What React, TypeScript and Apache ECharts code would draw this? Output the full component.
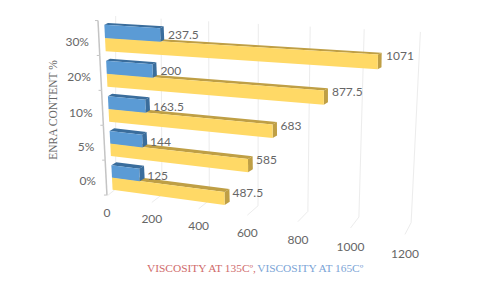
import React, { useEffect, useRef } from "react";
import * as echarts from "echarts";

const categories = ["0%", "5%", "10%", "20%", "30%"];
const viscosity135 = [487.5, 585, 683, 877.5, 1071];
const viscosity165 = [125, 144, 163.5, 200, 237.5];
const valueTicks = [0, 200, 400, 600, 800, 1000, 1200];
const VALUE_MAX = 1200;
const seriesNames = ["VISCOSITY AT 135Cº", "VISCOSITY AT 165Cº"];
const axisName = "ENRA CONTENT %";

const SANS = "Lato, Carlito, sans-serif";
const SERIF = "'Liberation Serif', serif";
const TEXT_COLOR = "#666666";
const GRID_COLOR = "#ececec";
const AXIS_COLOR = "#c4c4c4";

// Perspective projection of the flat cartesian grid (layout only, no data).
const ROW_TOP = 38;
const ROW_SPAN = 139.5;
function warp(X: number, Y: number, sys: any): number[] {
  const v = ((X - sys.x) / sys.width) * VALUE_MAX;
  const t = (Y - ROW_TOP) / ROW_SPAN;
  const y0 = Y + 4.8 * t * (1 - t);
  const x0 = 105 + (y0 - ROW_TOP) * 0.05;
  const s = (0.2277 + 2.54e-5 * v) * (1 - 0.00028 * (y0 - ROW_TOP));
  const slope = 0.0168 + 0.000102 * (y0 - 51);
  return [x0 + v * s, y0 + v * slope];
}
function depth(p: number[], Y: number): number[] {
  const t = (Y - 26) / 160;
  return [p[0] + 3.6 + 1.4 * t, p[1] - (1.8 + 1.4 * t)];
}
function plane(v: number, x0: number, a: number, b: number, y0: number, c: number) {
  return [x0 + v * (a + b * v), y0 + c * v];
}

function gridRender(params: any, api: any) {
  const sys = params.coordSys;
  const value = api.value(0);
  const X = api.coord([value, 0])[0];
  const v = ((X - sys.x) / sys.width) * VALUE_MAX;
  const top = plane(v, 115.7, 0.2215, 2.7e-5, 16, 0.0133);
  const back = plane(v, 115.7, 0.2282, 1.5e-5, 189, 0.028);
  const front = plane(v, 107, 0.2195, 2.4e-5, 196, 0.032);
  return {
    type: "group",
    children: [
      { type: "polyline", shape: { points: [top, back, front] }, style: { stroke: GRID_COLOR, lineWidth: 1, fill: "none" } },
      {
        type: "text",
        style: {
          text: String(value), x: front[0], y: front[1] + 16 + v * 0.0022,
          align: "center", verticalAlign: "middle",
          fontFamily: SANS, fontSize: 12, fill: TEXT_COLOR,
        },
      },
    ],
  };
}

function catRender(params: any, api: any) {
  const idx = api.value(1);
  const c = api.coord([0, idx]);
  const band = api.size([0, 1])[1];
  const axisX = (y: number) => 98 + ((y - 21) * 9) / 175;
  const children: any[] = [];
  const tickY = c[1] - band / 2;
  const t = (c[1] - ROW_TOP) / ROW_SPAN;
  const y0 = c[1] + 4.8 * t * (1 - t);
  const b = c[1] + band / 2;
  children.push({ type: "line", shape: { x1: axisX(tickY), y1: tickY, x2: axisX(tickY) - 3, y2: tickY }, style: { stroke: AXIS_COLOR, lineWidth: 1 } });
  children.push({ type: "line", shape: { x1: axisX(tickY), y1: tickY, x2: axisX(b), y2: b }, style: { stroke: AXIS_COLOR, lineWidth: 1.5 } });
  if (idx === 0) {
    children.push({ type: "line", shape: { x1: axisX(b), y1: b, x2: axisX(b) - 3, y2: b }, style: { stroke: AXIS_COLOR, lineWidth: 1 } });
  }
  children.push({
    type: "text",
    style: {
      text: categories[idx], x: 89 + (y0 - ROW_TOP) * 0.05, y: y0 + 3,
      align: "right", verticalAlign: "middle", fontFamily: SANS, fontSize: 12, fill: TEXT_COLOR,
    },
  });
  return { type: "group", children };
}

function barRender(colorFront: string, colorDark: string, above: boolean) {
  return (params: any, api: any) => {
    const sys = params.coordSys;
    const value = api.value(0);
    const idx = api.value(1);
    const start = api.coord([0, idx]);
    const end = api.coord([value, idx]);
    const band = api.size([0, 1])[1];
    const th = band * 0.365;
    const yA = above ? start[1] - th : start[1];
    const yB = above ? start[1] : start[1] + th;
    const lt = warp(start[0], yA, sys);
    const lb = warp(start[0], yB, sys);
    const rt = warp(end[0], yA, sys);
    const rb = warp(end[0], yB, sys);
    const blt = depth(lt, yA);
    const brt = depth(rt, yA);
    const brb = depth(rb, yB);
    return {
      type: "group",
      children: [
        { type: "polygon", shape: { points: [lt, rt, brt, blt] }, style: { fill: colorDark } },
        { type: "polygon", shape: { points: [rt, rb, brb, brt] }, style: { fill: colorDark } },
        { type: "polygon", shape: { points: [lt, rt, rb, lb] }, style: { fill: colorFront } },
        {
          type: "text",
          style: {
            text: String(value), x: rt[0] + 8, y: above ? (rt[1] + rb[1]) / 2 : rt[1] + 0.5,
            align: "left", verticalAlign: "middle", fontFamily: SANS, fontSize: 12, fill: TEXT_COLOR,
          },
        },
      ],
    };
  };
}

export default function App() {
  const ref = useRef<HTMLDivElement>(null);
  useEffect(() => {
    document.body.style.margin = "0";
    const chart = echarts.init(ref.current!, undefined, { renderer: "svg" });
    chart.setOption({
      animation: false,
      backgroundColor: "#ffffff",
      title: {
        left: 147, top: 262, padding: 0,
        text: `{a|${seriesNames[0]},}{b|${seriesNames[1]}}`,
        textStyle: {
          fontWeight: "normal",
          rich: {
            a: { fontFamily: SERIF, fontSize: 11.4, fontWeight: "normal", color: "#cf6b6b" },
            b: { fontFamily: SERIF, fontSize: 11.4, fontWeight: "normal", color: "#7ba4d6" },
          },
        },
      },
      graphic: [
        {
          type: "text", x: 53, y: 110, rotation: Math.PI / 2,
          style: { text: axisName, align: "center", verticalAlign: "middle", fontFamily: SERIF, fontSize: 11.5, fill: TEXT_COLOR },
        },
      ],
      grid: { left: 105, width: 300, top: 20.55, height: 174.5 },
      xAxis: { type: "value", min: 0, max: VALUE_MAX, interval: 200, show: false },
      yAxis: { type: "category", data: categories, show: false },
      series: [
        { type: "custom", silent: true, z: 1, renderItem: gridRender, data: valueTicks.map((v) => [v, 0]) },
        { type: "custom", silent: true, z: 2, renderItem: catRender, data: categories.map((_, i) => [0, i]) },
        { type: "custom", name: seriesNames[0], silent: true, z: 3, renderItem: barRender("#FFD966", "#BF9F45", false), data: viscosity135.map((v, i) => [v, i]) },
        { type: "custom", name: seriesNames[1], silent: true, z: 4, renderItem: barRender("#5B9BD5", "#3A6D9C", true), data: viscosity165.map((v, i) => [v, i]) },
      ],
    });
    return () => chart.dispose();
  }, []);
  return <div ref={ref} style={{ width: 480, height: 295 }} />;
}
